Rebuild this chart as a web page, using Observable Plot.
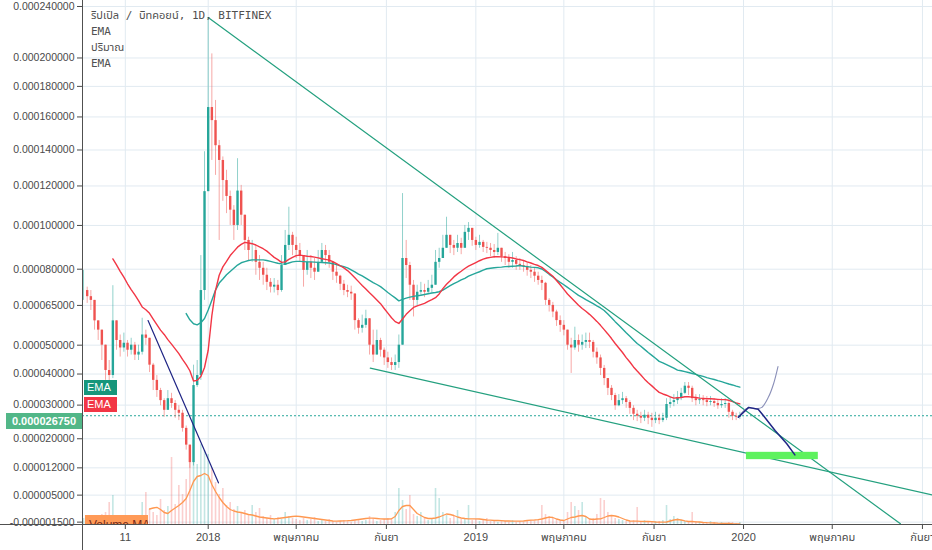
<!DOCTYPE html>
<html><head><meta charset="utf-8">
<script src="https://cdn.jsdelivr.net/npm/d3@7"></script>
<script src="https://cdn.jsdelivr.net/npm/@observablehq/plot@0.6"></script>
<style>
html,body{margin:0;padding:0;background:#fff;overflow:hidden;}
#wrap{position:relative;width:932px;height:550px;overflow:hidden;}
#wrap svg{position:absolute;left:0;top:0;}
.legend{position:absolute;left:91px;top:8px;font:11px "DejaVu Sans Mono","Noto Sans Thai","Loma","Garuda",monospace;color:#505050;line-height:16px;white-space:pre;}
.badge{position:absolute;color:#fff;font:11px "Liberation Sans",Arial,sans-serif;box-sizing:border-box;white-space:nowrap;overflow:hidden;}
.sep{position:absolute;background:#505050;}
</style></head><body><div id="wrap"></div>
<script>
const UNIT = 1e-6;               // prices below are in millionths of BTC
const startDate = Date.UTC(2017, 6, 15);
const stepDays = 5;

const closeP = [
  71, 68.5, 67, 59, 55.5, 50, 41.2, 39.5, 59, 51.7,
  49, 50.7, 48.2, 50, 46.5, 47.5, 53.7, 52.5, 43, 37.9,
  34.6, 31.4, 28.4, 32, 30.5, 28.4, 27.5, 23, 18.2, 13.4,
  36.2, 39.5, 71, 117, 166, 157.7, 142.5, 134, 122.9, 114.5,
  107.5, 100, 117.3, 105, 92.9, 88.3, 88.3, 83, 80.4, 77.4,
  74.4, 72.4, 73.2, 71, 81.6, 90.6, 95.3, 90.6, 88.3, 86,
  79.5, 83, 80.4, 78.7, 83, 88.3, 86, 83, 78.7, 77,
  73.6, 71, 70.3, 69.6, 59.1, 56.2, 57.3, 59.8, 50, 46.5,
  51.7, 48.2, 45.5, 43.9, 42.9, 43.9, 50, 84.7, 81.6, 73.2,
  67, 70.3, 71, 70.3, 71.9, 73.2, 83, 84.7, 89.3, 95.3,
  90.6, 89.3, 91.5, 89.3, 96.7, 98.6, 92.9, 90.6, 92, 89.7,
  89.3, 88.3, 87.4, 89.3, 85.5, 84.7, 83, 83.8, 82.1, 81.6,
  81.2, 79.5, 78.7, 77, 75.2, 74, 67, 65, 62.4, 59.1,
  57.3, 55.5, 50, 49, 51.7, 50, 51, 51.7, 51, 47.5,
  45.5, 41.9, 38.5, 35.3, 33, 29.8, 31.4, 32, 30.8, 29,
  27.2, 26.6, 26, 26.9, 26, 25.3, 26, 25.3, 26, 30.2,
  30.8, 31.4, 32.4, 33.7, 36, 35.3, 32, 31.4, 31.7, 31.4,
  30.8, 31.1, 30.5, 29.8, 30.2, 30.5, 27.8, 26.6, 26.3, 26.75
];
const highP = [
  79.5, 72.4, 71, 67, 59, 55.5, 50, 44.6, 73, 57.3,
  53.7, 54.4, 51.7, 52.5, 51, 50, 60, 55.5, 51.7, 43.6,
  39.5, 35.3, 32, 34.6, 33.7, 31.4, 29.8, 28.4, 23.7, 18.2,
  43, 44.6, 86, 139, 231, 203, 170.6, 145.6, 136, 128.5,
  117.3, 109.8, 135, 120.3, 105, 94.4, 92.9, 90.6, 86, 83,
  80.4, 76, 76, 75.2, 86, 97.6, 109, 96.7, 94.4, 91.5,
  86, 88.3, 86, 84.7, 88.3, 91.5, 90.6, 88.3, 83, 81.6,
  77.4, 75.2, 73.2, 72.8, 69.3, 59.8, 61.2, 63.1, 59.1, 55.5,
  55.5, 52.5, 49, 47.5, 45.5, 46.5, 53.7, 116, 92.9, 83,
  75.2, 73.2, 74.4, 73.6, 75.2, 77.4, 88.3, 89.3, 95.3, 104,
  95.3, 92.9, 95.3, 93.9, 100, 101.4, 98.6, 94.4, 95.3, 92.9,
  92, 91.5, 91, 96.2, 89.3, 87.4, 86.4, 87.4, 85.5, 84.7,
  83.8, 83, 81.6, 80.4, 78.7, 77, 74.4, 67.7, 66.2, 63.1,
  60.9, 59.1, 55.5, 52.5, 56.6, 53.7, 53.7, 54.4, 54.4, 51.7,
  49, 46.5, 42.9, 38.5, 36.2, 33.7, 33.3, 34, 32.7, 31.4,
  29.8, 28.4, 27.8, 28.4, 27.8, 27.5, 27.8, 27.2, 27.5, 32,
  32.7, 33.3, 34.3, 35.3, 37.2, 37.2, 36, 33.3, 33.3, 33,
  32.7, 32.7, 32, 31.7, 32, 32, 31.1, 28.4, 27.5, 27.8
];
const lowP = [
  67, 65.8, 63, 55.5, 51.7, 44.6, 37.9, 37.2, 38.5, 48.2,
  45.8, 47.5, 45.8, 46.5, 44.6, 44.6, 46.5, 50, 40.5, 34.6,
  32.4, 29.8, 26.3, 28.4, 29, 26, 25.3, 21.9, 16.8, 11.9,
  12.5, 35.6, 37.9, 67, 117, 134, 125.7, 92.9, 112, 105.8,
  100, 92.9, 97.6, 100, 88.3, 83.8, 83, 77.4, 75.2, 73.2,
  71, 70, 70, 68.9, 70.3, 81.6, 88.3, 86, 84.7, 83,
  72.4, 77.4, 76, 75.2, 78.7, 83, 81.6, 80.4, 75.2, 74,
  71, 68.9, 68.1, 67, 55.5, 54, 54.4, 56.2, 46.5, 43.9,
  48.2, 45.8, 42.9, 41.9, 41.2, 41.2, 41.9, 50, 76, 67,
  60.5, 65, 68.9, 68.1, 69.3, 70, 73.2, 80.4, 84.7, 90.6,
  86.9, 86, 87.4, 86.4, 89.3, 92.9, 90.2, 88.3, 89.3, 87.4,
  86.9, 85.5, 84.7, 86, 83, 81.6, 80.4, 80.4, 79.5, 79.5,
  78.7, 77, 76, 74.4, 73.2, 71, 65, 62.4, 60.2, 56.9,
  54.7, 53.4, 48.2, 40.2, 48.2, 47.5, 48.2, 48.8, 48.8, 45.5,
  43.3, 39.5, 36.2, 33, 31.4, 28.4, 29.5, 30.2, 29, 27.2,
  25.3, 25, 24.4, 25, 24.1, 23.3, 24.4, 24.1, 24.7, 25.3,
  29, 29.5, 30.2, 31.4, 33.3, 33, 30.8, 29.8, 30.2, 29.8,
  29.5, 29.8, 29.3, 28.7, 29, 29, 26, 25.3, 25.3, 25.6
];
const volume = [
  6, 4, 5, 8, 7, 10, 12, 22, 29, 8,
  6, 5, 4, 6, 5, 8, 22, 32, 15, 12,
  9, 25, 14, 18, 67, 20, 39, 30, 45, 72,
  84, 60, 80, 74, 70, 56, 42, 30, 36, 19,
  22, 15, 18, 12, 14, 10, 19, 12, 16, 8,
  6, 9, 5, 7, 5, 12, 8, 6, 5, 4,
  6, 4, 5, 7, 3, 4, 3, 5, 3, 2,
  3, 4, 3, 2, 4, 5, 3, 4, 8, 6,
  3, 4, 5, 6, 5, 12, 36, 24, 15, 29,
  10, 8, 12, 6, 4, 6, 36, 26, 12, 9,
  6, 8, 14, 5, 6, 19, 4, 5, 3, 4,
  6, 3, 3, 2, 4, 3, 2, 4, 2, 3,
  2, 3, 4, 3, 5, 19, 10, 8, 6, 5,
  4, 3, 12, 22, 18, 14, 22, 8, 5, 6,
  10, 26, 24, 12, 8, 6, 5, 4, 3, 3,
  4, 17, 3, 4, 3, 2, 3, 3, 4, 19,
  5, 8, 6, 4, 3, 3, 12, 3, 2, 2,
  2, 3, 2, 1, 2, 1, 2, 2, 1, 2
];
const volumeMA = [
  null, null, null, null, null, null, null, null, null, null,
  null, null, null, null, null, null, null, null, 15.5, 16.5,
  17.2, 15, 12, 11, 14, 16.5, 19, 22, 26, 34,
  43, 48, 49, 51, 49, 40, 33, 27, 22, 18,
  15, 13.5, 12.5, 12, 11, 10, 9.5, 8.5, 7.5, 7,
  6.5, 6, 5.7, 6, 6.5, 7, 7.5, 8, 8.3, 8,
  7.5, 7, 6.5, 6, 5.5, 5, 4.5, 4, 3.5, 3.3,
  3.5, 3.7, 3.8, 4, 4.5, 5, 5.5, 6, 6.3, 6.3,
  6, 5.7, 5.5, 5.5, 5.7, 8, 14, 18, 19, 19,
  15, 11, 9, 7, 6, 6, 6.5, 7.5, 9, 10.5,
  10, 9, 7.5, 6.5, 6, 5.7, 5.7, 5.7, 5.5, 5,
  4.5, 4.3, 4, 4, 3.8, 3.5, 3.5, 3.3, 3.3, 3.3,
  3.5, 4, 4.3, 4.5, 4.8, 5.5, 6.5, 7.3, 7, 5.5,
  4.5, 4, 5.5, 7, 7.5, 8.5, 9, 8, 5.5, 5,
  5.5, 5.7, 7, 8.5, 9, 8.5, 7.5, 6, 4.5, 3.5,
  3.3, 3.3, 3.2, 3, 3, 2.8, 2.5, 2.3, 2.3, 2.5,
  3.5, 4.5, 5, 4.5, 3.7, 3, 3, 2.7, 2.5, 2,
  1.8, 1.7, 1.5, 1.3, 1.2, 1, 1, 0.8, 0.7, 0.7
];
const emaRedP = [
  null, null, null, null, null, null, null, null, 84.5, 81.9,
  79.1, 76.6, 73.8, 71.4, 69.2, 66.9, 64.4, 63.3, 61.9, 59.7,
  57.6, 55.5, 53.9, 52, 50.4, 48.7, 47, 45, 43.2, 41.1,
  37.7, 37.9, 39.2, 42.2, 48.2, 61, 71.1, 77.4, 81, 83.4,
  86, 87.9, 89.8, 91.1, 92, 91.7, 91.4, 90.8, 89.9, 89.1,
  88, 86.6, 85.2, 84.2, 83, 83.2, 84.3, 85.2, 86, 86.2,
  86, 85.7, 85.6, 85.3, 85, 84.6, 84.3, 84, 83.3, 82.4,
  81.5, 80.6, 79.4, 77.9, 76.3, 74.7, 73.1, 71.6, 70.1, 68.7,
  67.2, 65.7, 63.8, 62, 60.2, 58.7, 58, 59.7, 61.5, 62.9,
  64.2, 64.8, 65.3, 65.8, 66.6, 67.3, 68.1, 69.6, 71.8, 73.6,
  75.1, 76.7, 78, 79.1, 80.3, 81.3, 82.1, 82.9, 83.7, 84.4,
  84.9, 85.2, 85.5, 85.5, 85.4, 85.3, 85.2, 84.9, 84.5, 84.2,
  83.8, 83.2, 82.7, 82.1, 81.6, 80.8, 79.5, 78.2, 77, 75.2,
  73.4, 71.5, 69.6, 68.1, 66.6, 65.1, 63.8, 62.7, 61.5, 60.2,
  58.8, 57.3, 55.7, 54.1, 52.4, 50.6, 49, 47.4, 45.6, 44.1,
  42.4, 41, 39.7, 38.3, 37.1, 36.1, 35, 34, 33.5, 33.1,
  32.6, 32.2, 32.3, 32.4, 32.6, 32.6, 32.5, 32.4, 32.2, 32.1,
  32, 32, 31.9, 31.8, 31.7, 31.7, 31.5, 31.1, 30.7, 30.4
];
const emaGreenP = [
  null, null, null, null, null, null, null, null, null, null,
  null, null, null, null, null, null, null, null, null, null,
  null, null, null, null, null, null, null, null, 61.8, 59.4,
  57.9, 57.5, 58.3, 59.9, 63.2, 67.1, 71.2, 74.1, 75.8, 77.6,
  79, 80.4, 81.8, 82.8, 83.3, 83.8, 84.1, 84.1, 84.1, 84.1,
  83.8, 83.4, 83, 82.6, 82.3, 82.2, 82.7, 83.2, 83.4, 83.4,
  83.3, 83.2, 83.2, 83.1, 83, 82.9, 82.8, 82.7, 82.4, 82,
  81.5, 81.1, 80.6, 79.7, 78.8, 77.9, 77.1, 76.2, 75.2, 74.3,
  73.5, 72.6, 71.4, 70.2, 69.1, 68, 66.8, 67.4, 67.9, 68.3,
  68.6, 68.9, 69.1, 69.4, 69.7, 70, 70.2, 70.5, 71.2, 72.1,
  73, 73.9, 74.6, 75.4, 76.1, 77, 77.7, 78.3, 78.9, 79.6,
  80.2, 80.4, 80.6, 80.8, 80.9, 81.1, 81.2, 81.3, 81.4, 81.6,
  81.3, 81.1, 80.9, 80.8, 80.6, 80.1, 79, 77.8, 76.7, 75.5,
  74.4, 73.4, 72.3, 71.2, 70.1, 69, 68.2, 67.3, 66.5, 65.7,
  64.8, 64, 63, 61.6, 60.2, 58.7, 57.3, 55.9, 54.5, 53.2,
  51.9, 50.6, 49.6, 48.5, 47.4, 46.4, 45.4, 44.3, 43.8, 43.2,
  42.6, 42, 41.3, 41.1, 40.8, 40.5, 40.2, 39.9, 39.5, 39.2,
  38.8, 38.5, 38.2, 37.8, 37.5, 37.1, 36.7, 36.4, 36, 35.7
];

const yTickValues = [240, 200, 180, 160, 140, 120, 100, 80, 65, 50, 40, 30, 20, 12, 5, -1.5];
const xTickDates = ["2017-09-10", "2018-01-01", "2018-05-01", "2018-09-01", "2019-01-01", "2019-05-01", "2019-09-01", "2020-01-01", "2020-05-01", "2020-09-01"];
const xTickLabels = ["11", "2018", "พฤษภาคม", "กันยา", "2019", "พฤษภาคม", "กันยา", "2020", "พฤษภาคม", "กันยา"];
const lastPrice = 26.75;

const trendTop = [{date: "2018-01-01", p: 231}, {date: "2020-08-02", p: -1.9}];
const trendLow = [{date: "2018-08-10", p: 42.0}, {date: "2020-09-15", p: 5.0}];
const navyEarly = [{date: "2017-10-11", p: 59.1}, {date: "2018-01-15", p: 8.1}];
const navyDown = [
  {date: "2019-12-25", p: 26.3}, {date: "2020-01-08", p: 29.3}, {date: "2020-01-21", p: 28.7},
  {date: "2020-01-28", p: 26.8}, {date: "2020-02-13", p: 22.4}, {date: "2020-02-29", p: 18.6},
  {date: "2020-03-11", p: 15.5}
];
const navyUp = [
  {date: "2019-12-25", p: 26.3}, {date: "2020-01-06", p: 29.0}, {date: "2020-01-19", p: 28.9},
  {date: "2020-01-26", p: 29.3}, {date: "2020-02-04", p: 32.5}, {date: "2020-02-11", p: 36.8},
  {date: "2020-02-17", p: 42.5}
];
const targetBox = [{x1: "2020-01-05", x2: "2020-04-12", y1: 14.2, y2: 16.2}];

const legendLines = ["ริปเปิล / บิทคอยน์, 1D, BITFINEX", "EMA", "ปริมาณ", "EMA"];

// ---- build tables ----
const DAY = 864e5;
const candles = closeP.map((c, i) => {
  const o = i ? closeP[i - 1] : c;
  return {
    date: new Date(startDate + i * stepDays * DAY),
    open: o * UNIT, close: c * UNIT,
    high: Math.max(highP[i], o, c) * UNIT, low: Math.min(lowP[i], o, c) * UNIT,
    up: c >= o, vol: volume[i], volMA: volumeMA[i],
    emaR: emaRedP[i] == null ? null : emaRedP[i] * UNIT,
    emaG: emaGreenP[i] == null ? null : emaGreenP[i] * UNIT
  };
});
const toPts = arr => arr.map(d => ({date: new Date(d.date), p: d.p * UNIT}));
const yTicks = yTickValues.map(v => v * UNIT);
const xTicks = xTickDates.map(d => new Date(d));
const labelMap = new Map(xTicks.map((d, i) => [+d, xTickLabels[i]]));
const fmt = v => (v < 0 ? "-" : "") + Math.abs(v).toFixed(9);

const GREEN = "#26a69a", RED = "#ef5350", TEAL = "#24a07f", NAVY = "#1f2585";
const xDomain = [new Date(Date.UTC(2017, 6, 13, 14, 24)), new Date(Date.UTC(2020, 8, 14, 17, 0))];
const base = {width: 932, height: 550, marginLeft: 82, marginRight: 0, marginTop: 0, marginBottom: 26};
const yPrice = {type: "symlog", constant: 95.6 * UNIT, domain: [-2.07 * UNIT, 245 * UNIT]};

const gridPlot = Plot.plot({
  ...base,
  x: {type: "utc", domain: xDomain},
  y: {...yPrice},
  style: {background: "#fff", fontFamily: "'Liberation Sans', Arial, 'Noto Sans Thai', sans-serif", fontSize: "10.5px", color: "#4a4a4a"},
  marks: [
    Plot.gridY(yTicks, {stroke: "#e1eaf1", strokeOpacity: 1}),
    Plot.gridX(xTicks, {stroke: "#e1eaf1", strokeOpacity: 1}),
    Plot.axisY(yTicks, {anchor: "left", tickSize: 5, tickPadding: 3, tickFormat: fmt, label: null}),
    Plot.axisX(xTicks, {anchor: "bottom", tickSize: 5, tickPadding: 4, tickFormat: d => labelMap.get(+d), label: null, fontSize: 11})
  ]
});

const volPlot = Plot.plot({
  ...base,
  x: {type: "utc", domain: xDomain, axis: null},
  y: {domain: [0, 524], axis: null},
  style: {background: "transparent"},
  marks: [
    Plot.ruleX(candles, {x: "date", y1: 0, y2: "vol", stroke: d => d.up ? GREEN : RED, strokeOpacity: 0.28, strokeWidth: 1.6}),
    Plot.line(candles.filter(d => d.volMA != null), {x: "date", y: "volMA", stroke: "#ff9850", strokeWidth: 1.3})
  ]
});

const mainPlot = Plot.plot({
  ...base,
  x: {type: "utc", domain: xDomain, axis: null},
  y: {...yPrice, axis: null},
  style: {background: "transparent"},
  marks: [
    Plot.ruleY([lastPrice * UNIT], {stroke: GREEN, strokeDasharray: "2,2", strokeWidth: 1}),
    Plot.ruleX(candles, {x: "date", y1: "low", y2: "high", stroke: d => d.up ? GREEN : RED, strokeOpacity: 0.5, strokeWidth: 1}),
    Plot.ruleX(candles, {x: "date", y1: "open", y2: "close", stroke: d => d.up ? GREEN : RED, strokeWidth: 2.4}),
    Plot.line(candles.filter(d => d.emaG != null), {x: "date", y: "emaG", stroke: GREEN, strokeWidth: 1.4}),
    Plot.line(candles.filter(d => d.emaR != null), {x: "date", y: "emaR", stroke: "#f23645", strokeWidth: 1.4}),
    Plot.line(toPts(trendTop), {x: "date", y: "p", stroke: TEAL, strokeWidth: 1.2, clip: true}),
    Plot.line(toPts(trendLow), {x: "date", y: "p", stroke: TEAL, strokeWidth: 1.2, clip: true}),
    Plot.line(toPts(navyEarly), {x: "date", y: "p", stroke: NAVY, strokeWidth: 1.2}),
    Plot.rect(targetBox.map(d => ({x1: new Date(d.x1), x2: new Date(d.x2), y1: d.y1 * UNIT, y2: d.y2 * UNIT})), {x1: "x1", x2: "x2", y1: "y1", y2: "y2", fill: "#5ef25e"}),
    Plot.line(toPts(navyUp), {x: "date", y: "p", stroke: "#8a8fb8", strokeWidth: 1.1, curve: "catmull-rom"}),
    Plot.line(toPts(navyDown), {x: "date", y: "p", stroke: NAVY, strokeWidth: 1.5})
  ]
});

const wrap = document.getElementById("wrap");
wrap.append(gridPlot, volPlot, mainPlot);

// frame separators
function sep(l, t, w, h) { const d = document.createElement("div"); d.className = "sep"; Object.assign(d.style, {left: l + "px", top: t + "px", width: w + "px", height: h + "px"}); wrap.append(d); }
sep(82, 0, 1, 550);
sep(0, 524, 932, 1);

// legend
const lg = document.createElement("div"); lg.className = "legend"; lg.textContent = legendLines.join("\n"); wrap.append(lg);

// badges positioned through the price scale
const ys = mainPlot.scale("y");
const py = v => ys.apply(v);
function badge(text, left, top, w, h, bg, extra = {}) {
  const d = document.createElement("div"); d.className = "badge"; d.textContent = text;
  Object.assign(d.style, {left: left + "px", top: top + "px", width: w + "px", height: h + "px", lineHeight: h + "px", background: bg}, extra);
  wrap.append(d); return d;
}
const lastG = candles[candles.length - 1].emaG, lastR = candles[candles.length - 1].emaR;
const gTop = py(lastG) - 7, rTop = Math.max(py(lastR) - 6.5, gTop + 16);
badge("EMA", 84, gTop, 33, 15, "#16967b", {paddingLeft: "3px"});
badge("EMA", 84, rTop, 33, 15, "#f23645", {paddingLeft: "3px"});
const pTop = Math.max(py(lastPrice * UNIT) - 8, rTop + 16);
badge(fmt(lastPrice * UNIT), 6, pTop, 76, 16, "#52b788", {textAlign: "center", fontWeight: "bold"});
badge("Volume MA", 85, 515, 63, 9, "#ff9a57", {color: "#7a2a1a", lineHeight: "20px", fontSize: "12px", paddingLeft: "4px"});
</script></body></html>
